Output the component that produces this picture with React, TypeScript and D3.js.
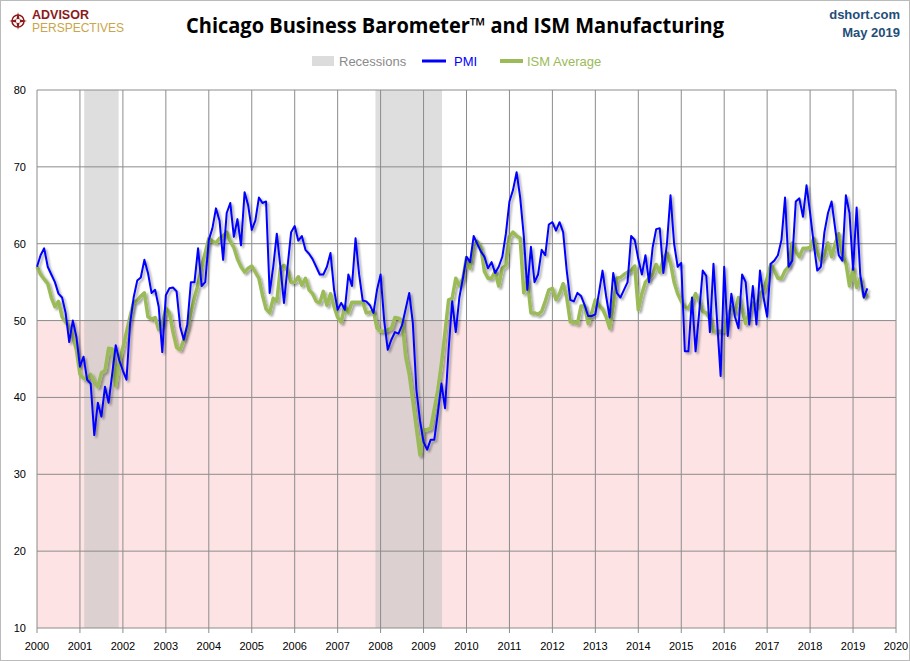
import React from 'react';
import * as d3 from 'd3';

// monthly values, Jan 2000 .. May 2019
const pmi: number[] = [
  57, 58.5, 59.4, 57, 56, 55, 53.5, 53, 51, 47.2, 50, 47.9,
  44, 45.3, 42.3, 41.8, 35.1, 39.3, 37.5, 41.4, 39.3, 43, 46.8, 44.8,
  43.5, 42.3, 49.6, 53, 55.2, 55.6, 57.9, 56.2, 53.6, 54, 51.8, 45.9,
  53.3, 54.2, 54.3, 53.8, 49.2, 47.5, 49.5, 55, 55, 59.4, 54.5, 55,
  60.5, 62, 64.6, 63, 57.9, 64, 65.3, 60.9, 63.2, 59.8, 66.7, 65,
  61.8, 63, 66, 65.3, 65.5, 53.6, 57, 61.3, 57, 52.3, 57, 61.5,
  62.3, 60.4, 61, 59.2, 58.7, 58, 57, 56, 56, 57, 58.8, 54,
  51.4, 52.3, 51.4, 56, 54.5, 60.7, 56, 52.6, 52.5, 52, 51, 54,
  56, 50, 46.2, 47.5, 48.5, 48.3, 49.4, 51.5, 53.6, 49.7, 41, 37,
  34.2, 33.2, 34.5, 34.5, 38, 41.8, 38.6, 46.2, 52.5, 48.5, 53, 55.5,
  58.3, 57.6, 61, 60, 59, 58.3, 56.8, 57.6, 56.2, 57, 58.3, 61.3,
  65.5, 67, 69.3, 66, 61, 54, 59.6, 55, 56, 59.2, 58.5, 62.5,
  62.8, 61.7, 62.8, 61.5, 56.5, 52.7, 52.5, 53.6, 53.2, 52, 50.6, 50.6,
  50.8, 53.6, 56.5, 53.2, 50.4, 56.2, 53.6, 53, 54, 55, 61, 60.5,
  58, 56, 58.5, 55, 59.5, 61.9, 62, 56.2, 60, 66.3, 60, 57,
  57.5, 46, 46, 53, 46, 51, 56.5, 55.8, 48.5, 57.4, 50, 42.8,
  57, 48, 53.5, 50.5, 49, 56, 55, 49.5, 54.5, 49.5, 56.5, 53,
  50.5, 57.4, 57.8, 58.5, 60.5, 66, 57, 57.8, 65.5, 65.9, 63.5, 67.6,
  64, 60, 56.5, 57, 61.5, 64, 65.5, 62, 58.5, 57.8, 66.3, 64,
  56.6, 64.7, 56, 53, 54.2,
];

const ismAvg: number[] = [
  57, 56, 55.4, 54.8, 53, 51.8, 52.5, 50.5, 49.8, 49.2, 48, 46.2,
  43, 42.5, 42.3, 43, 42, 41.4, 43.2, 43.5, 46.4, 46.3, 41.5, 44.6,
  46.5, 48.5, 50.5, 52.4, 52.6, 53.2, 53.6, 50.5, 50.2, 50.4, 48.8, 49.5,
  51.6, 51, 48.5, 46.5, 46.2, 47.5, 49, 51, 53, 54.7, 57, 58.8,
  60.7, 60.3, 60.1, 60.7, 61, 61.5, 60.3, 59.5, 58, 57, 56.3, 56.8,
  57.1, 56.3, 55.5, 53.3, 51.5, 51, 52.9, 52.5, 56.8, 57.2, 56.5, 55,
  55, 55.7, 54.6, 55.5, 54, 53.5, 52.5, 52.3, 53.8, 52, 53.5, 51.8,
  50.4, 49.8, 51.9, 51, 52.4, 52.4, 52.4, 52.4, 51, 51.1, 51.2, 49,
  48.6, 48.6, 48.8, 49, 50.4, 50.3, 50, 45.3, 43, 39.6, 36, 32.5,
  35.8, 35.8, 36, 38.5, 41, 44.4, 48.5, 52.7, 52.9, 55.5, 54.5, 55.5,
  58.2, 56.8, 59.8, 60.3, 59.6, 56.4, 55.5, 55.5, 56.4, 54.5, 56.8, 57.2,
  60.9, 61.5, 61, 60.7, 53.6, 55.3, 51, 51, 50.8, 51.2, 52.5, 54,
  54.2, 52.7, 53.5, 54.8, 53, 49.8, 49.8, 49.6, 51.9, 51.9, 49.6, 51,
  52.7, 52, 51.5, 50.5, 49, 52, 55.5, 55.6, 56, 56.3, 56.5, 57.1,
  51.4, 53.5, 55, 55.5, 56, 57.3, 56.3, 58, 58.8, 57.5, 55, 53.5,
  52.5, 51.8, 51.6, 52.5, 53.5, 52.5, 51.2, 51, 50.2, 48.6, 48.6, 48.6,
  48.6, 50.5, 51.8, 51, 53, 51.5, 49.6, 51, 52.3, 51.8, 53.5, 54,
  55.5, 57.3, 56.5, 55.5, 55.5, 56.5, 57, 60.1, 59, 58.3, 59.4, 59.4,
  59.5, 60.7, 59, 57.8, 58.5, 60.1, 58.3, 60, 61.3, 58.6, 57.5, 54.5,
  56.8, 54.3, 55.5, 53.2, 53.5,
];

const recessions: [number, number][] = [
  [2001.1, 2001.9],
  [2007.88, 2009.43],
];

const years = d3.range(2000, 2021);
const yTicks = [10, 20, 30, 40, 50, 60, 70, 80];

const W = 910, H = 661;
const left = 37, right = 896, top = 90, bottom = 628;

export default function App() {
  const x = d3.scaleLinear().domain([2000, 2020]).range([left, right]);
  const y = d3.scaleLinear().domain([10, 80]).range([bottom, top]);
  const t = (i: number) => 2000 + i / 12;
  const line = d3.line<number>().x((_, i) => x(t(i))).y((d) => y(d));
  const font = "'Liberation Sans Narrow', 'Liberation Sans', sans-serif";

  return (
    <svg width={W} height={H} style={{ position: 'absolute', left: 0, top: 0, background: '#fff' }} fontFamily={font}>
      <defs>
        <filter id="sh" x="-5%" y="-5%" width="110%" height="110%">
          <feDropShadow dx="2" dy="2" stdDeviation="1.2" floodColor="#000" floodOpacity="0.35" />
        </filter>
      </defs>
      <rect x={0.5} y={0.5} width={W - 1} height={H - 1} fill="#fff" stroke="#bbb" />

      {/* logo */}
      <g transform="translate(18,21)">
        <circle r={6} fill="none" stroke="#8b1a1a" strokeWidth={1.5} />
        <path d="M0,-9 L2,0 L0,9 L-2,0 Z M-9,0 L0,2 L9,0 L0,-2 Z" fill="#8b1a1a" />
      </g>
      <text x={32} y={19} fontSize={12.5} fontWeight="bold" fill="#8b1a1a">ADVISOR</text>
      <text x={32} y={32} fontSize={12} fill="#c9a64a">PERSPECTIVES</text>

      <text x={455} y={33} textAnchor="middle" fontSize={21} fontWeight="bold" fill="#000" fontFamily="'Open Sans', sans-serif" textLength={538} lengthAdjust="spacingAndGlyphs">
        Chicago Business Barometer™ and ISM Manufacturing
      </text>
      <text x={900} y={19} textAnchor="end" fontSize={13} fontWeight="bold" fill="#1f4e79">dshort.com</text>
      <text x={900} y={37} textAnchor="end" fontSize={13} fontWeight="bold" fill="#1f4e79">May 2019</text>

      {/* legend */}
      <rect x={312} y={56} width={22} height={10} fill="#dcdcdc" />
      <text x={339} y={66} fontSize={13} fill="#8a8a8a">Recessions</text>
      <line x1={422} x2={446} y1={61} y2={61} stroke="#0000ff" strokeWidth={3} />
      <text x={454} y={66} fontSize={13} fill="#0000ff">PMI</text>
      <line x1={500} x2={523} y1={61} y2={61} stroke="#9bbb59" strokeWidth={4} />
      <text x={527} y={66} fontSize={13} fill="#9bbb59">ISM Average</text>

      {/* plot background */}
      <rect x={left} y={y(50)} width={right - left} height={bottom - y(50)} fill="#fde3e3" />
      {recessions.map(([a, b], i) => (
        <rect key={i} x={x(a)} y={top} width={x(b) - x(a)} height={bottom - top} fill="#bdbdbd" opacity={0.5} />
      ))}

      {/* grid */}
      {yTicks.map((v) => (
        <g key={v}>
          <line x1={left} x2={right} y1={y(v)} y2={y(v)} stroke="#8c8c8c" strokeWidth={1} />
          <text x={26} y={y(v) + 4} textAnchor="end" fontSize={11} fill="#000" fontFamily="'Liberation Sans', sans-serif">{v}</text>
        </g>
      ))}
      {years.map((yr) => (
        <g key={yr}>
          <line x1={x(yr)} x2={x(yr)} y1={top} y2={bottom + 5} stroke="#8c8c8c" strokeWidth={1} />
          <text x={x(yr)} y={650} textAnchor="middle" fontSize={11} fill="#000" fontFamily="'Liberation Sans', sans-serif">{yr}</text>
        </g>
      ))}

      {/* series */}
      <path d={line(ismAvg) ?? ''} fill="none" stroke="#9bbb59" strokeWidth={3.5} strokeLinejoin="round" filter="url(#sh)" />
      <path d={line(pmi) ?? ''} fill="none" stroke="#0000ff" strokeWidth={2} strokeLinejoin="round" filter="url(#sh)" />
    </svg>
  );
}
